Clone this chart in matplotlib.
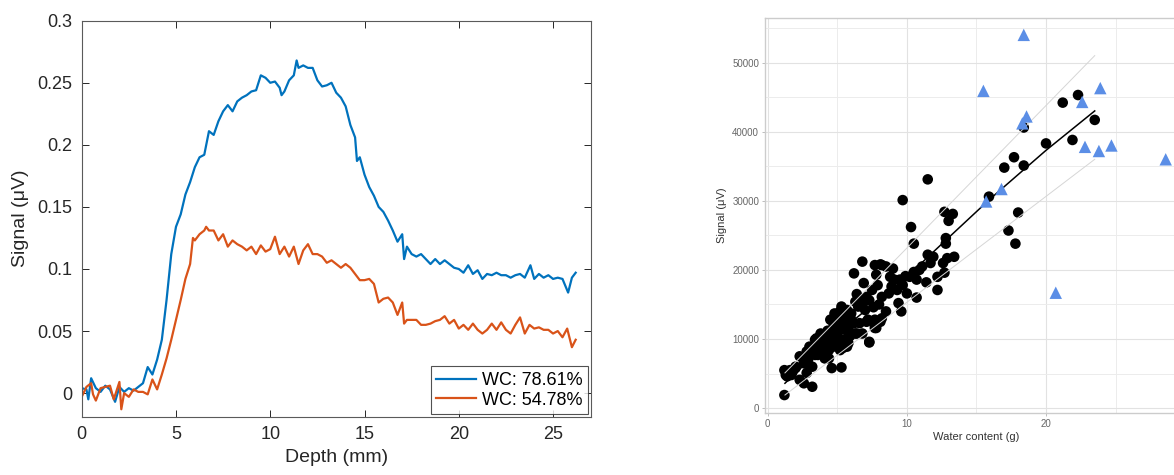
import numpy as np
import matplotlib
matplotlib.use("Agg")
import matplotlib.pyplot as plt
from matplotlib.ticker import FuncFormatter, MultipleLocator, FixedLocator

plt.rcParams['font.family'] = ['Liberation Sans', 'DejaVu Sans']

# ---- left panel: signal vs depth ----
depth_hi = [0.00, 0.25, 0.35, 0.50, 0.75, 1.00, 1.25, 1.50, 1.77, 2.00, 2.25, 2.50, 2.75,
            3.00, 3.25, 3.50, 3.75, 4.00, 4.25, 4.50, 4.75, 5.00, 5.25, 5.50, 5.75,
            6.00, 6.25, 6.50, 6.75, 7.00, 7.25, 7.50, 7.75, 8.00, 8.25, 8.50, 8.75,
            9.00, 9.25, 9.50, 9.75, 10.00, 10.25, 10.50, 10.60, 10.75, 11.00, 11.25,
            11.40, 11.50, 11.75, 12.00, 12.25, 12.50, 12.75, 13.00, 13.25, 13.50,
            13.75, 14.00, 14.25, 14.50, 14.60, 14.75, 15.00, 15.25, 15.50, 15.75,
            16.00, 16.25, 16.50, 16.75, 17.00, 17.10, 17.25, 17.50, 17.75, 18.00,
            18.25, 18.50, 18.75, 19.00, 19.25, 19.50, 19.75, 20.00, 20.25, 20.50,
            20.75, 21.00, 21.25, 21.50, 21.75, 22.00, 22.25, 22.50, 22.75, 23.00,
            23.25, 23.50, 23.80, 24.00, 24.25, 24.50, 24.75, 25.00, 25.25, 25.50,
            25.80, 26.00, 26.20]
signal_hi = [0.004, 0.003, -0.005, 0.012, 0.004, 0.001, 0.006, 0.003, -0.007, 0.005, 0.001,
             0.004, 0.002, 0.005, 0.008, 0.021, 0.015, 0.027, 0.043, 0.075, 0.112, 0.134,
             0.144, 0.160, 0.170, 0.182, 0.190, 0.192, 0.211, 0.208, 0.219, 0.227, 0.232,
             0.227, 0.235, 0.238, 0.240, 0.243, 0.244, 0.256, 0.254, 0.250, 0.251, 0.246,
             0.240, 0.243, 0.252, 0.256, 0.268, 0.262, 0.264, 0.262, 0.262, 0.252, 0.247,
             0.248, 0.250, 0.242, 0.238, 0.231, 0.216, 0.206, 0.187, 0.190, 0.176, 0.166,
             0.159, 0.150, 0.146, 0.139, 0.131, 0.122, 0.128, 0.108, 0.118, 0.112, 0.110,
             0.112, 0.108, 0.104, 0.108, 0.104, 0.107, 0.104, 0.101, 0.100, 0.097, 0.103,
             0.096, 0.099, 0.092, 0.096, 0.095, 0.097, 0.095, 0.095, 0.093, 0.095, 0.096,
             0.093, 0.103, 0.092, 0.096, 0.093, 0.095, 0.092, 0.093, 0.092, 0.081, 0.093,
             0.097]

depth_lo = [0.00, 0.25, 0.50, 0.60, 0.75, 1.00, 1.25, 1.50, 1.70, 2.00, 2.10, 2.25, 2.50,
            2.75, 3.00, 3.25, 3.50, 3.75, 4.00, 4.25, 4.50, 4.75, 5.00, 5.25, 5.50, 5.75,
            5.90, 6.00, 6.25, 6.50, 6.60, 6.75, 7.00, 7.25, 7.50, 7.75, 8.00, 8.25, 8.50,
            8.75, 9.00, 9.25, 9.50, 9.75, 10.00, 10.25, 10.50, 10.75, 11.00, 11.25, 11.50,
            11.75, 12.00, 12.25, 12.50, 12.75, 13.00, 13.25, 13.50, 13.75, 14.00, 14.25,
            14.50, 14.75, 15.00, 15.25, 15.50, 15.75, 16.00, 16.25, 16.50, 16.75, 17.00,
            17.10, 17.25, 17.50, 17.75, 18.00, 18.25, 18.50, 18.75, 19.00, 19.25, 19.50,
            19.75, 20.00, 20.25, 20.50, 20.75, 21.00, 21.25, 21.50, 21.75, 22.00, 22.25,
            22.50, 22.75, 23.00, 23.25, 23.50, 23.75, 24.00, 24.25, 24.50, 24.75, 25.00,
            25.25, 25.50, 25.75, 26.00, 26.20]
signal_lo = [-0.003, 0.005, 0.008, -0.001, -0.006, 0.004, 0.005, 0.006, -0.005, 0.009,
             -0.013, 0.000, -0.003, 0.003, 0.001, 0.001, -0.001, 0.011, 0.003, 0.015, 0.028,
             0.043, 0.059, 0.075, 0.092, 0.104, 0.125, 0.123, 0.128, 0.131, 0.134, 0.131,
             0.131, 0.123, 0.128, 0.118, 0.123, 0.120, 0.118, 0.115, 0.118, 0.112, 0.119,
             0.114, 0.116, 0.126, 0.112, 0.118, 0.110, 0.118, 0.104, 0.115, 0.120, 0.112,
             0.112, 0.110, 0.105, 0.107, 0.104, 0.101, 0.104, 0.101, 0.096, 0.091, 0.091,
             0.092, 0.088, 0.073, 0.076, 0.077, 0.073, 0.063, 0.073, 0.056, 0.059, 0.059,
             0.059, 0.055, 0.055, 0.056, 0.058, 0.059, 0.062, 0.056, 0.059, 0.052, 0.055,
             0.051, 0.056, 0.051, 0.048, 0.051, 0.056, 0.051, 0.057, 0.051, 0.048, 0.055,
             0.061, 0.048, 0.055, 0.052, 0.053, 0.051, 0.051, 0.048, 0.050, 0.045, 0.052,
             0.037, 0.043]

labels_left = ['WC: 78.61%', 'WC: 54.78%']

# ---- right panel: signal vs water content ----
pts_x = [22.3, 21.2, 23.5, 21.9, 20.0, 17.7, 17.0, 18.4, 18.4, 15.9, 18.0, 17.3, 17.8,
         11.5, 9.7, 10.3, 10.5, 12.7, 13.3, 13.0, 12.8, 12.8, 13.4, 12.9, 12.6, 12.7,
         12.2, 11.9, 11.5, 11.7, 11.4, 12.2, 10.9, 10.7, 10.7, 10.2, 9.7, 10.0, 9.5,
         9.0, 8.8, 8.5, 8.2, 7.7, 7.8, 7.9, 8.7, 8.9, 9.3, 9.4, 9.6, 8.5, 8.2, 6.8,
         6.2, 6.9, 6.4, 7.5, 7.1, 6.7, 7.3, 6.5, 6.0, 5.7, 5.3, 5.2, 4.8, 4.6, 5.7,
         6.2, 6.6, 7.2, 7.7, 8.1, 7.8, 6.8, 6.3, 7.3, 5.8, 5.3, 5.0, 4.6, 4.2, 4.6,
         5.0, 5.4, 5.7, 5.2, 4.7, 4.4, 4.0, 3.6, 3.5, 3.9, 4.1, 3.4, 3.0, 3.2, 2.8,
         2.3, 2.9, 2.6, 2.0, 1.6, 1.2, 1.3, 1.7, 2.8, 2.3, 2.6, 3.2, 1.2, 4.6, 5.3,
         5.9, 3.8, 3.4, 8.1, 6.3, 6.8, 4.5, 5.1, 6.0, 7.1, 7.7, 8.2, 4.7, 5.6, 6.4,
         7.7, 3.5, 4.1, 5.1, 5.8, 7.3, 3.3, 3.9, 4.6, 5.4, 2.9, 3.6, 4.4, 2.7, 3.2,
         2.0, 1.5, 1.4, 1.8, 5.0, 4.3, 5.5, 7.0, 7.6, 8.0, 9.1, 9.9, 10.5, 11.1]
pts_y = [45300, 44200, 41700, 38800, 38300, 36300, 34800, 35100, 40600, 30600, 28300,
         25700, 23800, 33100, 30100, 26200, 23800, 28400, 28100, 27100, 24600, 23800,
         21900, 21700, 21000, 19600, 19000, 21900, 22200, 21000, 18200, 17100, 20000,
         18600, 16000, 19000, 17800, 16600, 18600, 20200, 19000, 20500, 20700, 20700,
         19300, 17800, 16600, 17600, 17100, 15200, 14000, 14000, 16100, 21200, 19500,
         18100, 16500, 17100, 16100, 15600, 15600, 14700, 13700, 14200, 14700, 14000,
         13700, 12700, 12700, 12300, 12300, 12800, 12000, 12500, 11600, 10800, 10800,
         9500, 11600, 11800, 10800, 11300, 10600, 9900, 9400, 9900, 8900, 8400, 8900,
         8400, 8900, 9900, 8900, 8000, 7200, 7700, 8900, 8000, 8200, 7500, 7000, 6500,
         6000, 5500, 5500, 4800, 4800, 5100, 4100, 3600, 3100, 1900, 5800, 5900, 10400,
         10800, 9900, 20800, 15400, 14700, 12800, 13000, 12800, 12500, 12800, 13000,
         11600, 11300, 10800, 11600, 10100, 9900, 10100, 9400, 9600, 8900, 8400, 8900,
         8700, 8000, 7700, 7200, 6500, 6000, 5800, 5100, 4600, 5300, 12000, 11200,
         13300, 14200, 14600, 15000, 18600, 19100, 19700, 20500]

out_x = [18.4, 15.5, 23.9, 22.6, 18.6, 18.3, 22.8, 23.8, 24.7, 28.6, 16.8, 15.7, 20.7]
out_y = [54000, 45900, 46300, 44300, 42200, 41200, 37800, 37200, 38000, 36000, 31700,
         29900, 16700]

fit_x = [1.24, 5.0, 10.0, 12.8, 16.0, 20.0, 23.5]
fit_y = [3600, 10800, 19000, 24300, 30300, 37300, 43000]
upper_x = [1.24, 23.5]
upper_y = [5100, 51000]
lower_x = [1.24, 23.5]
lower_y = [1900, 36000]

fig = plt.figure(figsize=(11.74, 4.75), dpi=100)

# left axes, matlab look
ax = fig.add_axes([0.0696, 0.1227, 0.4336, 0.8337])
ax.plot(depth_hi, signal_hi, color='#0072BD', lw=1.6, label=labels_left[0])
ax.plot(depth_lo, signal_lo, color='#D95319', lw=1.6, label=labels_left[1])
ax.set_xlim(0, 27.0)
ax.set_ylim(-0.019, 0.3)
ax.xaxis.set_major_locator(MultipleLocator(5))
ax.yaxis.set_major_locator(MultipleLocator(0.05))
ax.yaxis.set_major_formatter(FuncFormatter(lambda v, p: '%g' % round(v, 3)))
ax.tick_params(direction='in', length=5, width=0.7, colors='#262626', labelsize=13,
               top=True, right=True, pad=7)
for s in ax.spines.values():
    s.set_color('#5a5a5a')
    s.set_linewidth(0.8)
ax.set_xlabel('Depth (mm)', fontsize=14, color='#262626', labelpad=4)
ax.set_ylabel('Signal (μV)', fontsize=14, color='#262626', labelpad=6)
leg = ax.legend(loc='lower right', fontsize=13, frameon=True, fancybox=False,
                edgecolor='#262626', borderaxespad=0.15, handlelength=2.2,
                handletextpad=0.35, labelspacing=0.15, borderpad=0.3)
leg.get_frame().set_linewidth(0.8)

# right axes, ggplot light look (cut off at the right edge)
ax2 = fig.add_axes([0.6519, 0.1305, 0.36, 0.831])
ax2.set_xlim(-0.17, 30.2)
ax2.set_ylim(-700, 56400)
ax2.xaxis.set_major_locator(FixedLocator([0, 10, 20]))
ax2.xaxis.set_minor_locator(FixedLocator([5, 15, 25]))
ax2.yaxis.set_major_locator(MultipleLocator(10000))
ax2.yaxis.set_minor_locator(MultipleLocator(5000))
ax2.grid(which='major', color='#e2e2e2', lw=0.8)
ax2.grid(which='minor', color='#ececec', lw=0.7)
ax2.set_axisbelow(True)
for s in ax2.spines.values():
    s.set_color('#cccccc')
    s.set_linewidth(1.0)
ax2.tick_params(which='major', length=2.5, width=0.6, color='#b3b3b3',
                labelsize=7, labelcolor='#666666', pad=2)
ax2.tick_params(which='minor', length=0)

ax2.scatter(pts_x, pts_y, s=58, color='black', edgecolors='none', zorder=3)
ax2.plot(upper_x, upper_y, color='#d6d6d6', lw=0.7, zorder=4)
ax2.plot(lower_x, lower_y, color='#d6d6d6', lw=0.7, zorder=4)
ax2.plot(fit_x, fit_y, color='black', lw=1.1, zorder=4)
ax2.scatter(out_x, out_y, s=80, marker='^', color='#5b8ee6', edgecolors='none', zorder=5)
ax2.set_xlabel('Water content (g)', fontsize=8, color='#333333', labelpad=2)
ax2.set_ylabel('Signal (μV)', fontsize=8, color='#333333', labelpad=4)

fig.savefig('out.png', dpi=100)
